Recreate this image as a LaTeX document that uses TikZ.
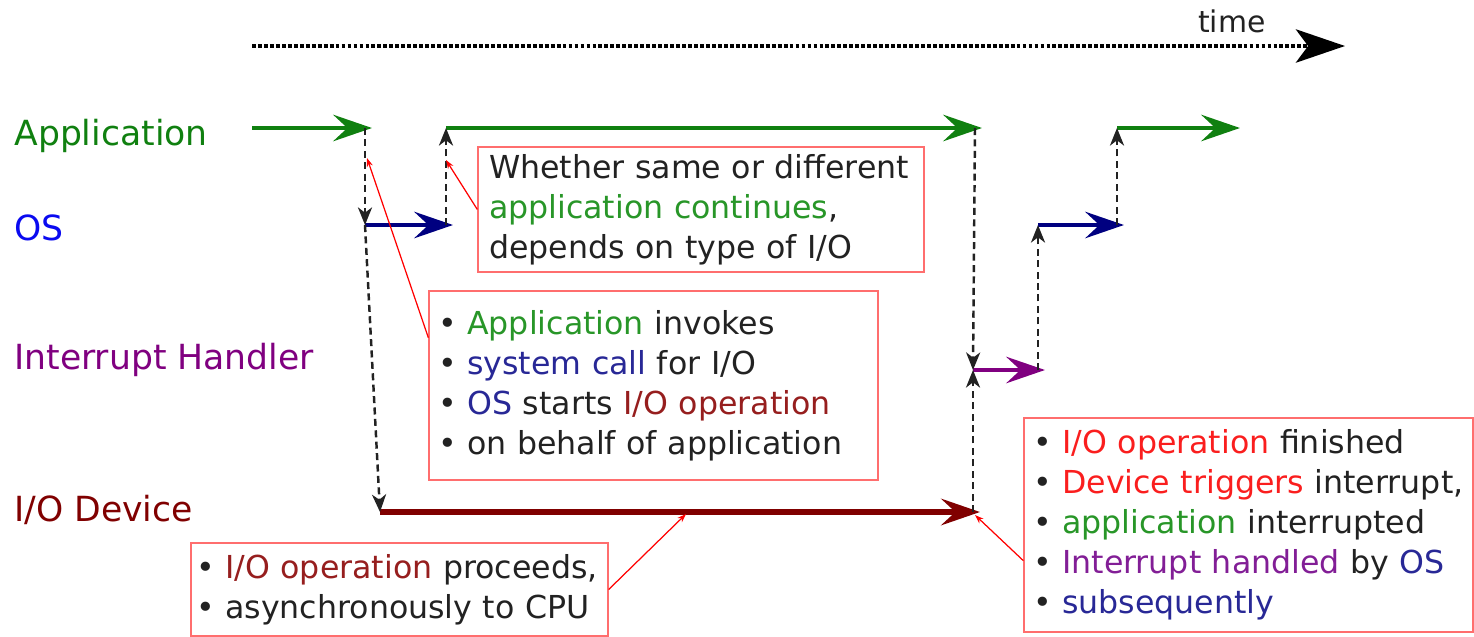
\documentclass[tikz,border=0pt]{standalone}
\usepackage{fontspec}
\setmainfont{DejaVu Sans}
\usepackage{xcolor}
\usetikzlibrary{arrows.meta}

\definecolor{appgreen}{RGB}{16,128,16}
\definecolor{osblue}{RGB}{10,10,240}
\definecolor{osnavy}{RGB}{0,0,128}
\definecolor{ihpurple}{RGB}{128,0,128}
\definecolor{devred}{RGB}{128,0,0}
\definecolor{txtgreen}{RGB}{40,150,40}
\definecolor{txtblue}{RGB}{40,40,150}
\definecolor{txtdark}{RGB}{150,30,30}
\definecolor{txtred}{RGB}{250,30,30}
\definecolor{txtpurple}{RGB}{130,30,150}
\definecolor{noteedge}{RGB}{255,110,110}
\definecolor{inkgray}{RGB}{34,34,34}

\begin{document}
\begin{tikzpicture}[x=0.02cm, y=-0.02cm,
    lane/.style={line width=2.8pt, shorten >=-1.4mm, -{Stealth[length=22pt,width=15pt,inset=8pt]}},
    switch/.style={draw=inkgray, line width=1.4pt, dash pattern=on 4pt off 2.5pt, -{Stealth[length=10pt,width=8pt,inset=3pt]}},
    pointer/.style={draw=red, line width=0.7pt, -{Stealth[length=5pt,width=3.5pt]}},
    lanelabel/.style={anchor=base west, inner sep=0pt, font=\fontsize{19.7}{23}\selectfont},
    note/.style={draw=noteedge, line width=0.8pt, align=left, inner ysep=2pt, text=inkgray, font=\fontsize{18}{22.7}\selectfont}]
  \useasboundingbox (0,0) rectangle (1474,636);

  % Time axis
  \coordinate (tstart) at (252,46);
  \coordinate (tend) at (1345,46);
  \draw[line width=2pt, dash pattern=on 2.2pt off 1.2pt, -{Stealth[length=28pt,width=19pt,inset=7pt]}] (tstart) -- (tend);
  \node[anchor=base, text=inkgray, font=\fontsize{17}{20}\selectfont] (timelabel) at (1232,32) {time};

  % Lane labels
  \node[lanelabel, text=appgreen] (applabel) at (14,145) {Application};
  \node[lanelabel, text=osblue] (oslabel) at (14,240) {OS};
  \node[lanelabel, text=ihpurple] (ihlabel) at (14,369) {Interrupt Handler};
  \node[lanelabel, text=devred] (devlabel) at (14,521) {I/O Device};

  % Points in time on each lane
  \coordinate (app0) at (252,128);
  \coordinate (app1) at (365,128);
  \coordinate (app2) at (446,128);
  \coordinate (app3) at (975,128);
  \coordinate (app4) at (1117,128);
  \coordinate (app5) at (1233,128);
  \coordinate (os1) at (365,225);
  \coordinate (os2) at (446,225);
  \coordinate (os3) at (1038,225);
  \coordinate (os4) at (1117,225);
  \coordinate (ih1) at (973,370);
  \coordinate (ih2) at (1038,370);
  \coordinate (dev1) at (380,512);
  \coordinate (dev2) at (973,512);

  % Running parts
  \draw[lane, appgreen] (app0) -- (app1);
  \draw[lane, appgreen] (app2) -- (app3);
  \draw[lane, appgreen] (app4) -- (app5);
  \draw[lane, osnavy] (os1) -- (os2);
  \draw[lane, osnavy] (os3) -- (os4);
  \draw[lane, ihpurple] (ih1) -- (ih2);
  \draw[lane, devred, line width=3.4pt] (dev1) -- (dev2);

  % Hand-overs
  \draw[switch] (app1) -- (os1);
  \draw[switch] (os1) -- (dev1);
  \draw[switch] (os2) -- (app2);
  \draw[switch] (app3) -- (ih1);
  \draw[switch] (dev2) -- (ih1);
  \draw[switch] (ih2) -- (os3);
  \draw[switch] (os4) -- (app4);

  % Notes
  \node[note, minimum height=2.5cm, inner xsep=0.22cm, text width=8.48cm] (contnote) at (701,209.5) {%
    Whether same or different\\
    \textcolor{txtgreen}{application continues},\\
    depends on type of I/O};
  \node[note, minimum height=3.78cm, inner xsep=0.18cm, text width=8.62cm] (callnote) at (653.5,385.5) {%
    \textbullet\ \textcolor{txtgreen}{Application} invokes\\
    \textbullet\ \textcolor{txtblue}{system call} for I/O\\
    \textbullet\ \textcolor{txtblue}{OS} starts \textcolor{txtdark}{I/O operation}\\
    \textbullet\ on behalf of application};
  \node[note, minimum height=1.86cm, inner xsep=0.1cm, text width=8.14cm] (procnote) at (399.5,589.5) {%
    \textbullet\ \textcolor{txtdark}{I/O operation} proceeds,\\
    \textbullet\ asynchronously to CPU};
  \node[note, minimum height=4.28cm, inner xsep=0.18cm, text width=8.62cm] (donenote) at (1248.5,525) {%
    \textbullet\ \textcolor{txtred}{I/O operation} finished\\
    \textbullet\ \textcolor{txtred}{Device triggers} interrupt,\\
    \textbullet\ \textcolor{txtgreen}{application} interrupted\\
    \textbullet\ \textcolor{txtpurple}{Interrupt handled} by \textcolor{txtblue}{OS}\\
    \textbullet\ \textcolor{txtblue}{subsequently}};

  % Pointers from the notes
  \coordinate (callpt) at (367,158);
  \coordinate (contpt) at (446,160);
  \coordinate (procpt) at (686,514);
  \coordinate (donept) at (975,515);
  \draw[pointer] (callnote.168) -- (callpt);
  \draw[pointer] (contnote.west) -- (contpt);
  \draw[pointer] (procnote.east) -- (procpt);
  \draw[pointer] (donenote.189) -- (donept);
\end{tikzpicture}
\end{document}
